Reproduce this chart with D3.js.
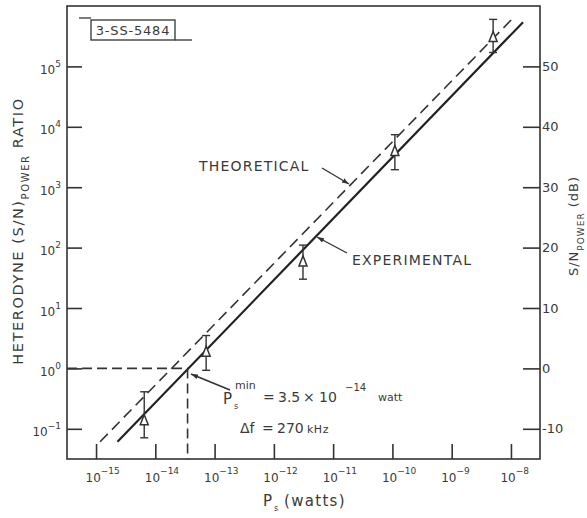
<!DOCTYPE html>
<html>
<head>
<meta charset="utf-8">
<script src="https://cdn.jsdelivr.net/npm/d3@7/dist/d3.min.js"></script>
<style>
  html, body { margin: 0; padding: 0; background: #fff; }
  svg { display: block; }
  text { font-family: "DejaVu Sans", "Liberation Sans", sans-serif; fill: #3a3a3a; }
</style>
</head>
<body>
<svg id="chart" width="587" height="518"></svg>
<script>
// ---------------- DATA ----------------
const xTickExps = [-15, -14, -13, -12, -11, -10, -9, -8];
const yTickExps = [-1, 0, 1, 2, 3, 4, 5];
const dbTicks = [-10, 0, 10, 20, 30, 40, 50];

// Experimental points: Ps (watts), S/N ratio, error bar low/high
const pointPs   = [6.5e-15, 7.2e-14, 3.1e-12, 1.1e-10, 5.0e-9];
const pointSN   = [0.136, 1.85, 58, 3.9e3, 3.0e5];
const pointLow  = [0.071, 0.93, 30, 1.95e3, 1.7e5];
const pointHigh = [0.41, 3.5, 110, 7.4e3, 6.0e5];

// Lines (endpoints)
const expLinePs = [2.3e-15, 1.6e-8];
const expLineSN = [0.061, 5.4e5];
const theoLinePs = [1.17e-15, 1.08e-8];
const theoLineSN = [0.061, 6.3e5];

// Threshold
const psMin = 3.5e-14;
const snThreshold = 1;

// ---------------- SCALES ----------------
const svg = d3.select("#chart");
const L = 67, R = 540, T = 6, B = 459;
const x = d3.scaleLog().domain([Math.pow(10, -15.49), Math.pow(10, -7.51)]).range([L, R]);
const y = d3.scaleLog().domain([Math.pow(10, -1.5), Math.pow(10, 6.0)]).range([B, T]);
const yDb = d3.scaleLinear().domain([-15, 60]).range([B, T]);

const ink = "#333";

const defs = svg.append("defs");
defs.append("marker").attr("id", "arr").attr("viewBox", "0 0 10 10")
  .attr("refX", 10).attr("refY", 5).attr("markerWidth", 7).attr("markerHeight", 7)
  .attr("markerUnits", "userSpaceOnUse").attr("orient", "auto")
  .append("path").attr("d", "M0,1.5 L10,5 L0,8.5 Z").attr("fill", ink);

// ---------------- AXES ----------------
const xAxis = d3.axisBottom(x).tickValues(xTickExps.map(e => Math.pow(10, e)))
  .tickSizeInner(-15).tickSizeOuter(0).tickFormat("");
const gx = svg.append("g").attr("transform", `translate(0,${B})`).call(xAxis);
gx.selectAll(".tick").each(function(d, i) {
  const t = d3.select(this).append("text").attr("x", -11).attr("y", 23)
    .attr("text-anchor", "start").style("font-size", "12px");
  t.append("tspan").text("10");
  t.append("tspan").attr("dy", -8).style("font-size", "9px").text("\u2212" + Math.abs(xTickExps[i]));
});

const yAxis = d3.axisLeft(y).tickValues(yTickExps.map(e => Math.pow(10, e)))
  .tickSizeInner(-15).tickSizeOuter(0).tickFormat("");
const gy = svg.append("g").attr("transform", `translate(${L},0)`).call(yAxis);
gy.selectAll(".tick").each(function(d, i) {
  const e = yTickExps[i];
  const t = d3.select(this).append("text").attr("x", -6).attr("y", 7)
    .attr("text-anchor", "end").style("font-size", "12px");
  t.append("tspan").text("10");
  t.append("tspan").attr("dy", -7).style("font-size", "9px").text(e < 0 ? "\u2212" + Math.abs(e) : e);
});

const yAxisR = d3.axisRight(yDb).tickValues(dbTicks).tickSizeInner(-17).tickSizeOuter(0)
  .tickFormat(d => d < 0 ? "-" + Math.abs(d) : d);
const gr = svg.append("g").attr("transform", `translate(${R},0)`).call(yAxisR);
gr.selectAll(".tick text").attr("x", 2).style("font-size", "13px")
  .style("font-family", "'DejaVu Sans', sans-serif").attr("fill", "#3a3a3a");

[gx, gy, gr].forEach(g => {
  g.select(".domain").remove();
  g.selectAll(".tick line").attr("stroke", ink).attr("stroke-width", 1.6);
});

svg.append("rect").attr("x", L).attr("y", T).attr("width", R - L).attr("height", B - T)
  .attr("fill", "none").attr("stroke", ink).attr("stroke-width", 1.6);

// ---------------- LINES ----------------
const lineGen = d3.line().x(d => x(d[0])).y(d => y(d[1]));
svg.append("path").datum(d3.zip(theoLinePs, theoLineSN)).attr("d", lineGen)
  .attr("fill", "none").attr("stroke", ink).attr("stroke-width", 1.6).attr("stroke-dasharray", "11,6");
svg.append("path").datum(d3.zip(expLinePs, expLineSN)).attr("d", lineGen)
  .attr("fill", "none").attr("stroke", "#222").attr("stroke-width", 2.2);

svg.append("path").datum([[x.domain()[0], snThreshold], [psMin, snThreshold]]).attr("d", lineGen)
  .attr("fill", "none").attr("stroke", ink).attr("stroke-width", 1.6).attr("stroke-dasharray", "10,5");
svg.append("path").datum([[psMin, snThreshold], [psMin, y.domain()[0]]]).attr("d", lineGen)
  .attr("fill", "none").attr("stroke", ink).attr("stroke-width", 1.6).attr("stroke-dasharray", "10,5");

// ---------------- POINTS ----------------
const pts = svg.append("g");
pointPs.forEach((p, i) => {
  const cx = x(p), cy = y(pointSN[i]);
  const y1 = y(pointHigh[i]), y2 = y(pointLow[i]);
  const g = pts.append("g").attr("stroke", ink).attr("stroke-width", 1.4);
  g.append("line").attr("x1", cx).attr("x2", cx).attr("y1", y1).attr("y2", y2);
  g.append("line").attr("x1", cx - 4).attr("x2", cx + 4).attr("y1", y1).attr("y2", y1);
  g.append("line").attr("x1", cx - 4).attr("x2", cx + 4).attr("y1", y2).attr("y2", y2);
  g.append("path").attr("d", `M${cx},${cy - 6} L${cx + 4},${cy + 4} L${cx - 4},${cy + 4} Z`)
    .attr("fill", "#fff").attr("stroke-width", 1.5);
});

// ---------------- ANNOTATIONS ----------------
svg.append("text").attr("x", 199).attr("y", 171).style("font-size", "14px")
  .style("letter-spacing", "1.2px").text("THEORETICAL");
svg.append("line").attr("x1", 322).attr("y1", 168).attr("x2", 349).attr("y2", 184)
  .attr("stroke", ink).attr("stroke-width", 1.4).attr("marker-end", "url(#arr)");

svg.append("text").attr("x", 352).attr("y", 265).style("font-size", "14px")
  .style("letter-spacing", "1.2px").text("EXPERIMENTAL");
svg.append("line").attr("x1", 347).attr("y1", 253).attr("x2", 317).attr("y2", 237)
  .attr("stroke", ink).attr("stroke-width", 1.4).attr("marker-end", "url(#arr)");

// Ps min annotation
svg.append("line").attr("x1", 230).attr("y1", 390).attr("x2", 191).attr("y2", 374)
  .attr("stroke", ink).attr("stroke-width", 1.4).attr("marker-end", "url(#arr)");
const pm = svg.append("text").style("font-size", "14px");
pm.append("tspan").attr("x", 223).attr("y", 404).style("font-size", "15px").text("P");
pm.append("tspan").attr("x", 234).attr("y", 409).style("font-size", "8px").text("s");
pm.append("tspan").attr("x", 235).attr("y", 389).style("font-size", "11px").text("min");
pm.append("tspan").attr("x", 263).attr("y", 402).text("=");
pm.append("tspan").attr("x", 278).attr("y", 402).text("3.5");
pm.append("tspan").attr("x", 303).attr("y", 402).text("\u00d7");
pm.append("tspan").attr("x", 319).attr("y", 402).text("10");
pm.append("tspan").attr("x", 345).attr("y", 391).style("font-size", "10px").text("\u221214");
pm.append("tspan").attr("x", 378).attr("y", 401).style("font-size", "11px").text("watt");

const df = svg.append("text").style("font-size", "14px");
df.append("tspan").attr("x", 240).attr("y", 433).text("\u0394f");
df.append("tspan").attr("x", 262).attr("y", 433).text("=");
df.append("tspan").attr("x", 277).attr("y", 433).text("270");
df.append("tspan").attr("x", 307).attr("y", 433).style("font-size", "11px").style("letter-spacing", "0.5px").text("kHz");

// axis titles
const xt = svg.append("text").style("font-size", "15px");
xt.append("tspan").attr("x", 263).attr("y", 506).text("P");
xt.append("tspan").attr("x", 274).attr("y", 511).style("font-size", "8px").text("s");
xt.append("tspan").attr("x", 284).attr("y", 506).style("letter-spacing", "1.3px").text("(watts)");

const yt = svg.append("text").attr("transform", "translate(23,231) rotate(-90)")
  .attr("text-anchor", "middle").style("font-size", "14.5px").style("letter-spacing", "1.6px");
yt.append("tspan").text("HETERODYNE (S/N)");
yt.append("tspan").attr("dy", 6).style("font-size", "10px").text("POWER");
yt.append("tspan").attr("dy", -6).text(" RATIO");

const yt2 = svg.append("text").attr("transform", "translate(578,226) rotate(-90)")
  .attr("text-anchor", "middle").style("font-size", "13px").style("letter-spacing", "1px");
yt2.append("tspan").text("S/N");
yt2.append("tspan").attr("dy", 6).style("font-size", "9px").text("POWER");
yt2.append("tspan").attr("dy", -6).text(" (dB)");

// figure ID box
svg.append("rect").attr("x", 91).attr("y", 20).attr("width", 84).attr("height", 20)
  .attr("fill", "none").attr("stroke", ink).attr("stroke-width", 1.3);
svg.append("line").attr("x1", 79).attr("x2", 91).attr("y1", 18).attr("y2", 18).attr("stroke", ink).attr("stroke-width", 1.3);
svg.append("line").attr("x1", 175).attr("x2", 192).attr("y1", 40).attr("y2", 40).attr("stroke", ink).attr("stroke-width", 1.3);
svg.append("text").attr("x", 133).attr("y", 35).attr("text-anchor", "middle")
  .style("font-size", "13px").style("letter-spacing", "0.8px").text("3-SS-5484");
</script>
</body>
</html>
